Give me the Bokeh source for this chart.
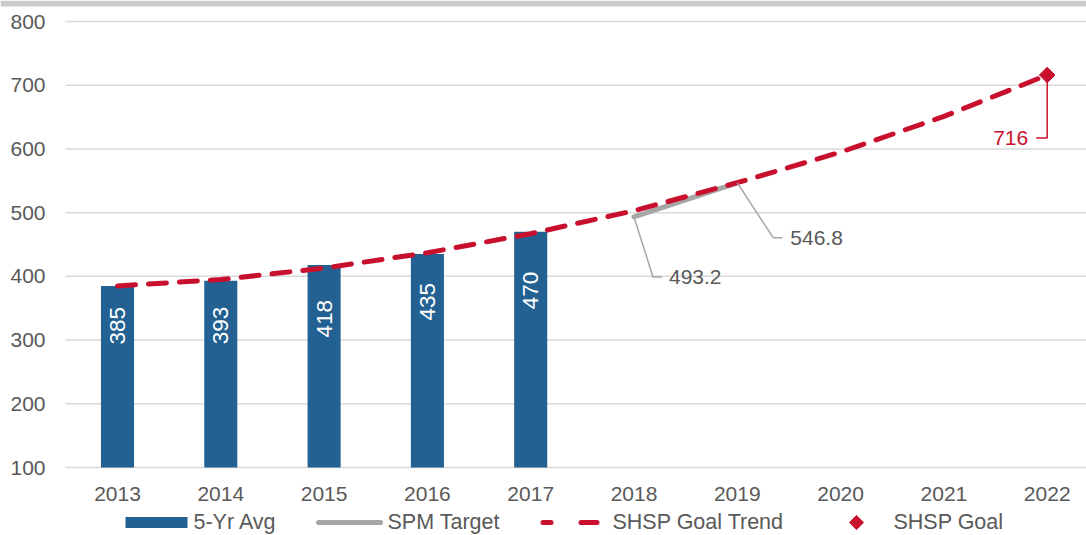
import math
from bokeh.plotting import figure
from bokeh.models import Range1d
from bokeh.core.properties import value
from bokeh.embed import file_html
from bokeh.resources import INLINE

# ---- data ----
years = [2013, 2014, 2015, 2016, 2017, 2018, 2019, 2020, 2021, 2022]
tick_labels = [str(y) for y in years]
bar_years = [2013, 2014, 2015, 2016, 2017]
avg_5yr = [385, 393, 418, 435, 470]
spm_years = [2018, 2019]
spm_target = [493.2, 546.8]
trend_years = years
shsp_trend = [385, 395, 413, 437, 467, 503, 547, 595, 651, 716]
goal_years = [2022]
shsp_goal = [716]
y_ticks = [100, 200, 300, 400, 500, 600, 700, 800]
legend_labels = ["5-Yr Avg", "SPM Target", "SHSP Goal Trend", "SHSP Goal"]

# ---- style ----
FONT = "Liberation Sans"
TXT = "#595959"
BLUE = "#236192"
RED = "#C8102E"
GRAY = "#A6A6A6"
GRID = "#D9D9D9"
FS = "21px"
LFS = "21.5px"
BAR_LABEL_GAP_PX = [21, 26, 35, 29, 40]   # label placement inside bars (pixels below bar top)

W, H = 1086, 535
# layout: pixel -> data conversion (frame covers the whole canvas)
dxpx = 1 / 103.3                 # years per pixel
dypx = 700 / 446.0               # values per pixel
x_start = years[0] - 117 * dxpx
x_end = x_start + W * dxpx
y_end = 800 + 21 * dypx
y_start = y_end - H * dypx

def X(px):
    return x_start + px * dxpx

def Y(py):
    return y_end - py * dypx

p = figure(width=W, height=H, output_backend="svg", toolbar_location=None,
           x_range=Range1d(x_start, x_end), y_range=Range1d(y_start, y_end),
           x_axis_location=None, y_axis_location=None,
           min_border=0, min_border_left=0, min_border_right=0,
           min_border_top=0, min_border_bottom=0)
p.outline_line_color = None
p.background_fill_color = "white"
p.border_fill_color = "white"
p.xgrid.visible = False
p.ygrid.visible = False

# top decorative band
p.quad(left=x_start, right=x_end, top=y_end, bottom=Y(6),
       fill_color="#CBCBCB", line_color=None)

# horizontal gridlines + y tick labels
p.segment(x0=[X(65)] * len(y_ticks), y0=y_ticks, x1=[x_end] * len(y_ticks),
          y1=y_ticks, line_color=GRID, line_width=1.5)
p.text(x=[X(45)] * len(y_ticks), y=y_ticks, text=[str(t) for t in y_ticks],
       text_align="right", text_baseline="middle", text_color=TXT,
       text_font=value(FONT), text_font_size=FS)

# x tick labels
p.text(x=years, y=[Y(493)] * len(years), text=tick_labels,
       text_align="center", text_baseline="middle", text_color=TXT,
       text_font=value(FONT), text_font_size=FS)

# bars
p.vbar(x=bar_years, top=avg_5yr, bottom=y_ticks[0], width=0.32,
       fill_color=BLUE, line_color=None)
p.text(x=bar_years, y=avg_5yr, text=[str(v) for v in avg_5yr],
       angle=math.pi / 2, text_align="right", text_baseline="middle",
       y_offset=BAR_LABEL_GAP_PX, text_color="white", text_font=value(FONT),
       text_font_size="22.5px")

# SPM target
p.line(spm_years, spm_target, line_color=GRAY, line_width=5, line_cap="round")

# trend
p.line(trend_years, shsp_trend, line_color=RED, line_width=5,
       line_dash="18 13", line_cap="round")

# goal
p.scatter(goal_years, shsp_goal, marker="square", angle=math.pi / 4,
          size=11, fill_color=RED, line_color=RED)

# callouts (leader lines defined by pixel offsets from data points)
def leader(x0, y0, pts, color):
    xs = [x0] + [x0 + dx * dxpx for dx, dy in pts]
    ys = [y0] + [y0 - dy * dypx for dx, dy in pts]
    p.line(xs, ys, line_color=color, line_width=1.5)

leader(spm_years[0], spm_target[0], [(19, 60), (28, 60)], GRAY)
p.text(x=[spm_years[0] + 35 * dxpx], y=[spm_target[0] - 60 * dypx],
       text=[f"{spm_target[0]:.1f}"], text_align="left", text_baseline="middle",
       text_color=TXT, text_font=value(FONT), text_font_size=FS)

leader(spm_years[1], spm_target[1], [(36, 55), (45, 55)], GRAY)
p.text(x=[spm_years[1] + 53 * dxpx], y=[spm_target[1] - 55 * dypx],
       text=[f"{spm_target[1]:.1f}"], text_align="left", text_baseline="middle",
       text_color=TXT, text_font=value(FONT), text_font_size=FS)

leader(goal_years[0], shsp_goal[0], [(0, 63), (-11, 63)], RED)
p.text(x=[goal_years[0] - 19 * dxpx], y=[shsp_goal[0] - 63 * dypx],
       text=[str(shsp_goal[0])], text_align="right", text_baseline="middle",
       text_color=RED, text_font=value(FONT), text_font_size=FS)

# legend (drawn in the bottom strip)
LY = 522
p.quad(left=X(125), right=X(187), top=Y(LY - 5.5), bottom=Y(LY + 5.5),
       fill_color=BLUE, line_color=None)
p.line([X(318), X(380)], [Y(LY), Y(LY)], line_color=GRAY, line_width=5,
       line_cap="round")
p.line([X(542.5), X(596.5)], [Y(LY), Y(LY)], line_color=RED, line_width=5,
       line_cap="round", line_dash="8 30 16 40")
p.scatter([X(856)], [Y(LY)], marker="square", angle=math.pi / 4, size=10,
          fill_color=RED, line_color=RED)
p.text(x=[X(193), X(387), X(612), X(893)], y=[Y(LY - 1)] * 4,
       text=legend_labels, text_align="left", text_baseline="middle",
       text_color=TXT, text_font=value(FONT), text_font_size=LFS)

open("out.html", "w").write(file_html(p, INLINE))
